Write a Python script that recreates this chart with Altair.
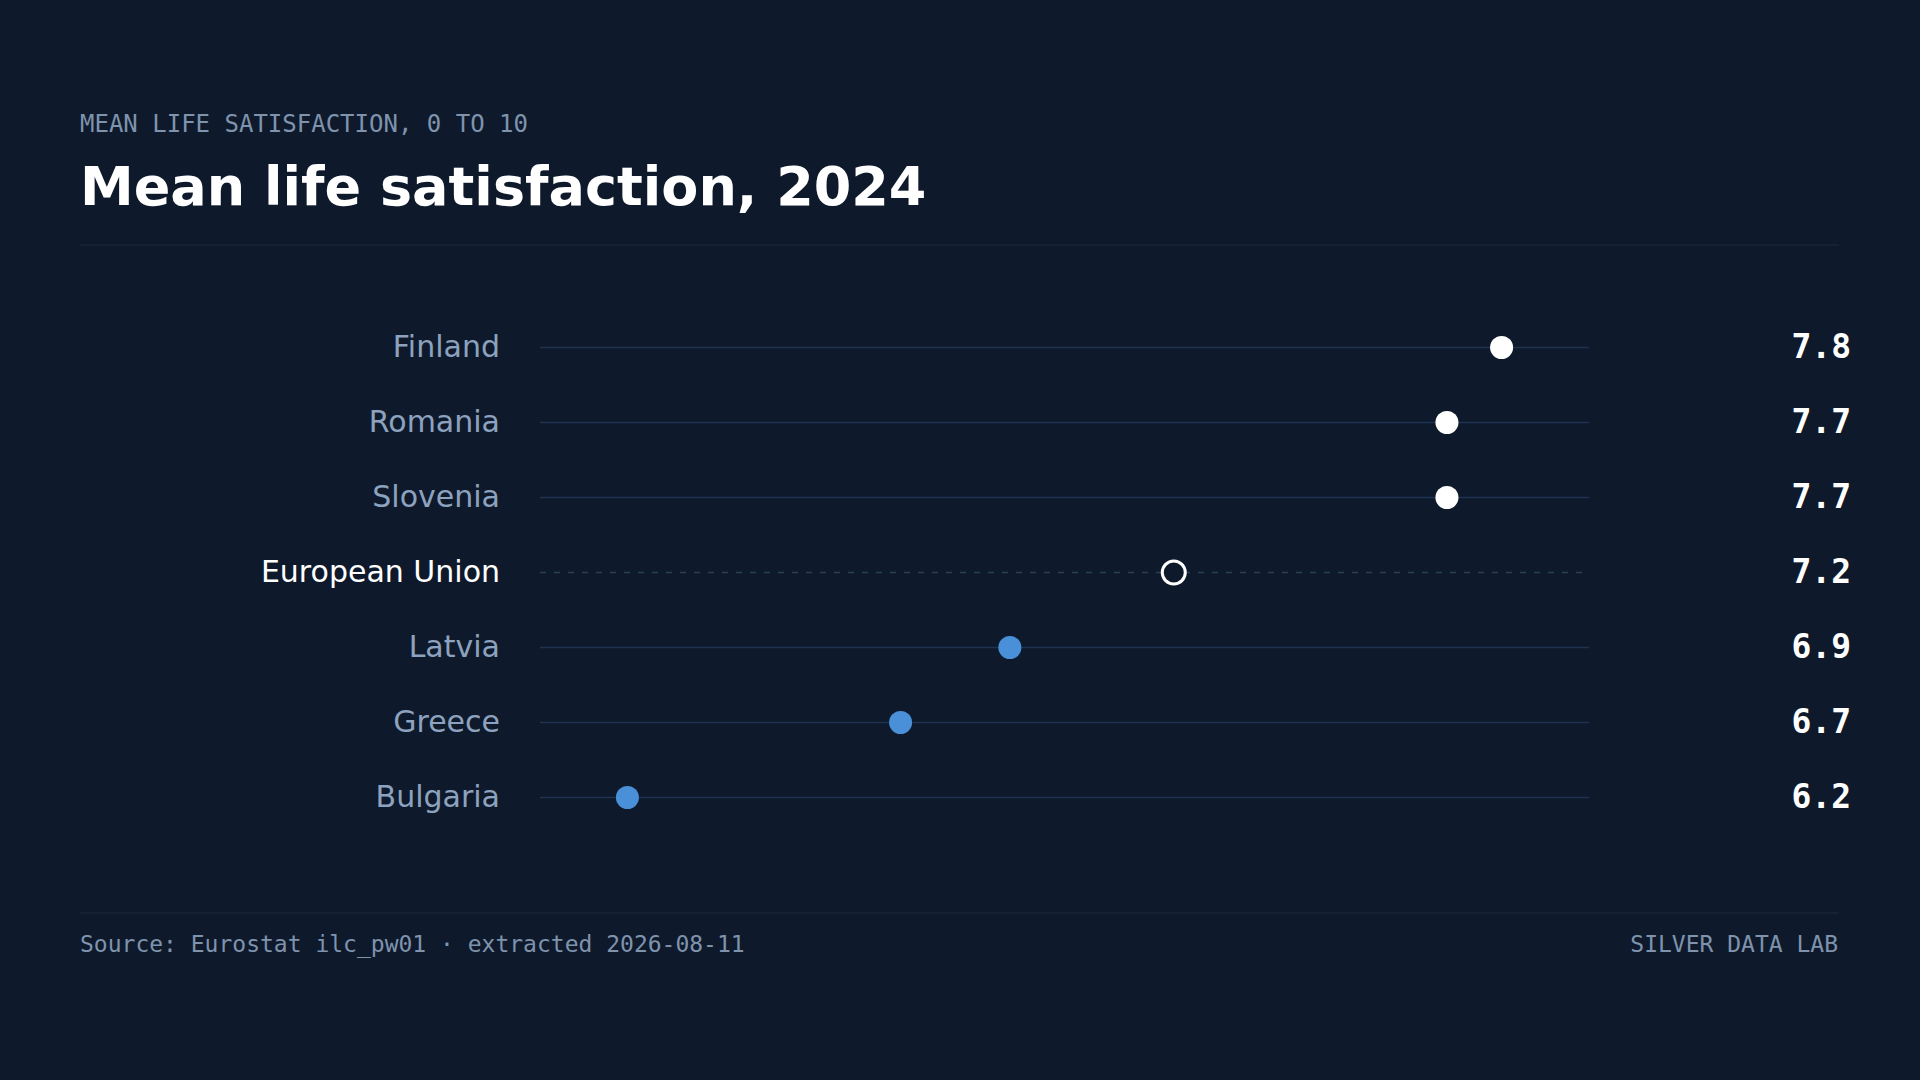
import altair as alt
import pandas as pd

# ---- data -------------------------------------------------------------
countries = ["Finland", "Romania", "Slovenia", "European Union", "Latvia", "Greece", "Bulgaria"]
values = [7.8, 7.7, 7.7, 7.2, 6.9, 6.7, 6.2]
groups = ["above", "above", "above", "eu", "below", "below", "below"]

subtitle_text = "MEAN LIFE SATISFACTION, 0 TO 10"
title_text = "Mean life satisfaction, 2024"
source_text = "Source: Eurostat ilc_pw01 · extracted 2026-08-11"
brand_text = "SILVER DATA LAB"

# ---- style ------------------------------------------------------------
BG = "#0e1a2b"
LINE = "#1f3350"
RULE = "#1a2a3f"
LABEL = "#8da2bf"
MUTED = "#7f93ad"
WHITE = "#ffffff"
BLUE = "#4a90d9"
SANS = "DejaVu Sans"
MONO = "DejaVu Sans Mono"

W, H = 1049, 525          # plot area
PAD_L, PAD_T = 540, 310
TOTAL_W, TOTAL_H = 1920, 1080

df = pd.DataFrame({"country": countries, "value": values, "group": groups})
df["label"] = df["value"].map(lambda v: f"{v:.1f}")

span = max(values) - min(values)
x_scale = alt.Scale(domain=[min(values) - 0.1 * span, max(values) + 0.1 * span], nice=False, zero=False)
y_scale = alt.Scale(type="point", domain=countries, padding=0.5)

X = alt.X("value:Q", scale=x_scale, axis=None)
Y = alt.Y("country:N", scale=y_scale, axis=None, sort=countries)

base = alt.Chart(df)

row_lines = base.transform_filter(alt.datum.group != "eu").mark_rule(
    color=LINE, strokeWidth=1.6
).encode(y=Y, x=alt.value(0), x2=alt.value(W))

eu_line = base.transform_filter(alt.datum.group == "eu").mark_rule(
    color="#2a3e5a", strokeWidth=1.6, strokeDash=[6, 8]
).encode(y=Y, x=alt.value(0), x2=alt.value(W - 6))

dots = base.transform_filter(alt.datum.group != "eu").mark_circle(
    size=530, opacity=1
).encode(
    x=X, y=Y,
    color=alt.Color("group:N", scale=alt.Scale(domain=["above", "below"], range=[WHITE, BLUE]), legend=None),
)

eu_dot = base.transform_filter(alt.datum.group == "eu").mark_point(
    shape="circle", size=530, filled=True, fill=BG, stroke=WHITE, strokeWidth=3, opacity=1
).encode(x=X, y=Y)

names = base.mark_text(
    align="right", baseline="middle", font=SANS, fontSize=30
).encode(
    y=Y, x=alt.value(-40), text="country:N",
    color=alt.condition(alt.datum.group == "eu", alt.value(WHITE), alt.value(LABEL)),
)

nums = base.mark_text(
    align="right", baseline="middle", font=MONO, fontSize=33, fontWeight="bold", color=WHITE
).encode(y=Y, x=alt.value(1851 - PAD_L), text="label:N")

# ---- header / footer texts -------------------------------------------
hdr = pd.DataFrame({"t": [subtitle_text]})
sub_mark = alt.Chart(hdr).mark_text(
    align="left", baseline="alphabetic", font=MONO, fontSize=24, color=MUTED
).encode(x=alt.value(80 - PAD_L), y=alt.value(132 - PAD_T), text="t:N")

ttl = pd.DataFrame({"t": [title_text]})
title_mark = alt.Chart(ttl).mark_text(
    align="left", baseline="alphabetic", font=SANS, fontSize=54, fontWeight="bold", color=WHITE
).encode(x=alt.value(80 - PAD_L), y=alt.value(205 - PAD_T), text="t:N")

src = pd.DataFrame({"t": [source_text]})
src_mark = alt.Chart(src).mark_text(
    align="left", baseline="alphabetic", font=MONO, fontSize=23, color=MUTED
).encode(x=alt.value(80 - PAD_L), y=alt.value(952 - PAD_T), text="t:N")

brd = pd.DataFrame({"t": [brand_text]})
brand_mark = alt.Chart(brd).mark_text(
    align="right", baseline="alphabetic", font=MONO, fontSize=23, color=MUTED
).encode(x=alt.value(1838 - PAD_L), y=alt.value(952 - PAD_T), text="t:N")

top_rule = alt.Chart(hdr).mark_rule(color=RULE, strokeWidth=1.2).encode(
    x=alt.value(80 - PAD_L), x2=alt.value(1839 - PAD_L), y=alt.value(245 - PAD_T)
)
bottom_rule = alt.Chart(hdr).mark_rule(color=RULE, strokeWidth=1.2).encode(
    x=alt.value(80 - PAD_L), x2=alt.value(1839 - PAD_L), y=alt.value(913 - PAD_T)
)

chart = alt.layer(
    top_rule, bottom_rule, row_lines, eu_line, dots, eu_dot, names, nums,
    sub_mark, title_mark, src_mark, brand_mark,
).properties(
    width=W, height=H,
    background=BG,
    padding={"left": PAD_L, "top": PAD_T, "right": TOTAL_W - PAD_L - W, "bottom": TOTAL_H - PAD_T - H},
    autosize=alt.AutoSizeParams(type="none"),
).configure_view(stroke=None)

# page template without the white body margin
try:
    import jinja2
    from altair.utils import html as _alt_html
    _tpl = jinja2.Template("""<!DOCTYPE html>
<html>
<head>
  <meta charset="utf-8">
  <style>
    html, body { margin: 0; padding: 0; background: #0e1a2b; overflow: hidden; }
    #{{ output_div }}.vega-embed { width: 100%; display: flex; }
  </style>
  <script type="text/javascript" src="{{ base_url }}/vega@{{ vega_version }}"></script>
  {%- if mode == 'vega-lite' %}
  <script type="text/javascript" src="{{ base_url }}/vega-lite@{{ vegalite_version }}"></script>
  {%- endif %}
  <script type="text/javascript" src="{{ base_url }}/vega-embed@{{ vegaembed_version }}"></script>
</head>
<body>
  <div id="{{ output_div }}"></div>
  <script>
    (function(vegaEmbed) {
      var spec = {{ spec }};
      var embedOpt = {{ embed_options }};
      function showError(el, error){
        el.innerHTML = ('<div style="color:red;"><p>JavaScript Error: ' + error.message + '</p></div>');
        throw error;
      }
      const el = document.getElementById('{{ output_div }}');
      vegaEmbed("#{{ output_div }}", spec, embedOpt).catch(error => showError(el, error));
    })(vegaEmbed);
  </script>
</body>
</html>
""")
    _alt_html.TEMPLATES["standard"] = _tpl
except Exception:
    pass

chart.save("out.html", embed_options={"renderer": "svg", "actions": False})
